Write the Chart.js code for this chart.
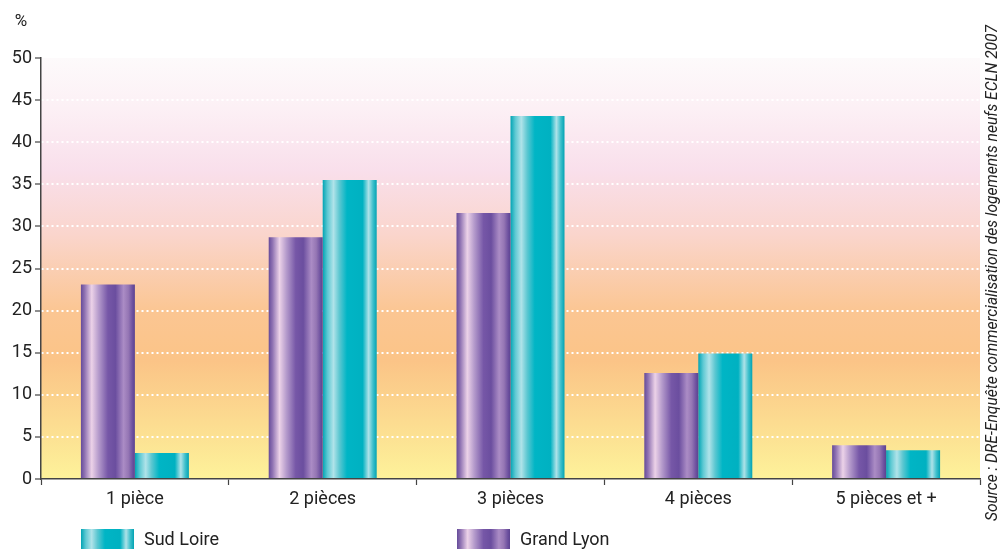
<!DOCTYPE html>
<html>
<head>
<meta charset="utf-8">
<script src="https://cdn.jsdelivr.net/npm/chart.js@4/dist/chart.umd.min.js"></script>
<style>
  body { margin: 0; background: #fff; }
  #wrap { position: relative; width: 1002px; height: 550px; }
  .legend { position: absolute; top: 528px; display: flex; align-items: center;
    font-family: Roboto, "DejaVu Sans", sans-serif; font-size: 18px; color: #222; }
  .legend span.box { display: inline-block; width: 53px; height: 20px; margin-right: 10px; }
</style>
</head>
<body>
<div id="wrap">
  <canvas id="chart" width="1002" height="550"></canvas>
  <div class="legend" style="left:81px"><span class="box" id="boxSud"></span>Sud Loire</div>
  <div class="legend" style="left:457px"><span class="box" id="boxLyon"></span>Grand Lyon</div>
</div>
<script>
const categories = ['1 pièce', '2 pièces', '3 pièces', '4 pièces', '5 pièces et +'];
const grandLyon = [23.1, 28.7, 31.6, 12.6, 4.0];
const sudLoire = [3.1, 35.5, 43.1, 14.9, 3.4];
const yMax = 50;
const yStep = 5;
const sourceText = 'Source : DRE-Enquête commercialisation des logements neufs ECLN 2007';

const FONT = 'Roboto, "DejaVu Sans", sans-serif';
const GROUP = 0.575;

// cylinder look, left to right
const purpleStops = [[0, '#654b9a'], [0.07, '#8f72b2'], [0.2, '#ecd2e8'], [0.33, '#b49acb'],
  [0.5, '#7657a7'], [0.64, '#6b4e9f'], [0.79, '#ab8cc5'], [0.88, '#9576b4'], [0.96, '#6b4f9e'], [1, '#5c4390']];
const tealStops = [[0, '#02a4b4'], [0.09, '#5ec9d3'], [0.2, '#b0e3e9'], [0.31, '#5cc7d1'],
  [0.45, '#00b5c5'], [0.74, '#00b1c1'], [0.85, '#aee2e8'], [0.93, '#3fc0cc'], [1, '#02a3b3']];

function cssGradient(stops) {
  return 'linear-gradient(to right,' + stops.map(s => s[1] + ' ' + (s[0] * 100) + '%').join(',') + ')';
}
document.getElementById('boxSud').style.background = cssGradient(tealStops);
document.getElementById('boxLyon').style.background = cssGradient(purpleStops);

function barFill(stops, side) {
  return function (c) {
    const x = c.chart.scales.x;
    if (!x || c.dataIndex === undefined) return stops[4][1];
    const bw = x.width / categories.length * GROUP / 2;
    const center = x.getPixelForValue(c.dataIndex);
    if (!isFinite(bw) || !isFinite(center) || bw <= 0) return stops[4][1];
    const left = side === 0 ? center - bw : center;
    const g = c.chart.ctx.createLinearGradient(left, 0, left + bw, 0);
    stops.forEach(s => g.addColorStop(s[0], s[1]));
    return g;
  };
}

// background of the plot + "%" + source text
const decor = {
  id: 'decor',
  beforeDraw(chart) {
    const {ctx, chartArea: a} = chart;
    const g = ctx.createLinearGradient(0, a.top, 0, a.bottom);
    g.addColorStop(0, '#fdfafb');
    g.addColorStop(0.12, '#fcf0f5');
    g.addColorStop(0.27, '#f9dfeb');
    g.addColorStop(0.42, '#fad5cc');
    g.addColorStop(0.6, '#fbc693');
    g.addColorStop(0.72, '#fbc487');
    g.addColorStop(0.86, '#fcdb90');
    g.addColorStop(1, '#fdf29a');
    ctx.save();
    ctx.fillStyle = g;
    ctx.fillRect(a.left, a.top, a.right - a.left, a.bottom - a.top);
    ctx.restore();
  },
  afterDraw(chart) {
    const ctx = chart.ctx;
    ctx.save();
    ctx.fillStyle = '#222';
    ctx.font = '17px ' + FONT;
    ctx.textAlign = 'center';
    ctx.textBaseline = 'middle';
    ctx.fillText('%', 21, 22);
    ctx.translate(997, 521);
    ctx.rotate(-Math.PI / 2);
    ctx.font = 'italic 16px ' + FONT;
    ctx.textAlign = 'left';
    ctx.textBaseline = 'alphabetic';
    const w = ctx.measureText(sourceText).width;
    const target = 496;
    ctx.scale(target / w, 1);
    ctx.fillText(sourceText, 0, 0);
    ctx.restore();
  }
};

new Chart(document.getElementById('chart'), {
  type: 'bar',
  data: {
    labels: categories,
    datasets: [{
      label: 'Grand Lyon',
      data: grandLyon,
      backgroundColor: barFill(purpleStops, 0),
      borderWidth: 0
    }, {
      label: 'Sud Loire',
      data: sudLoire,
      backgroundColor: barFill(tealStops, 1),
      borderWidth: 0
    }]
  },
  options: {
    responsive: false,
    animation: false,
    layout: { padding: { top: 58, right: 22, bottom: 31, left: 0 } },
    datasets: { bar: { categoryPercentage: GROUP, barPercentage: 1 } },
    plugins: { legend: { display: false }, tooltip: { enabled: false } },
    scales: {
      x: {
        afterFit(scale) { scale.height = 40; },
        grid: { display: true, drawOnChartArea: false, offset: true, tickLength: 6, tickColor: '#444', tickWidth: 1.2 },
        border: { color: '#444', width: 1.5 },
        ticks: { color: '#222', font: { family: FONT, size: 18 }, padding: 4, maxRotation: 0 }
      },
      y: {
        min: 0,
        max: yMax,
        afterFit(scale) { scale.width = 41; },
        grid: {
          color: c => (c.tick && (c.tick.value === 0 || c.tick.value === yMax)) ? 'rgba(0,0,0,0)' : '#ffffff',
          lineWidth: 2,
          tickLength: 6,
          tickColor: '#444',
          tickWidth: 1.2
        },
        border: { color: '#444', width: 1.5, dash: [2, 3] },
        ticks: { stepSize: yStep, color: '#222', font: { family: FONT, size: 18 }, padding: 3 }
      }
    }
  },
  plugins: [decor]
});
</script>
</body>
</html>
